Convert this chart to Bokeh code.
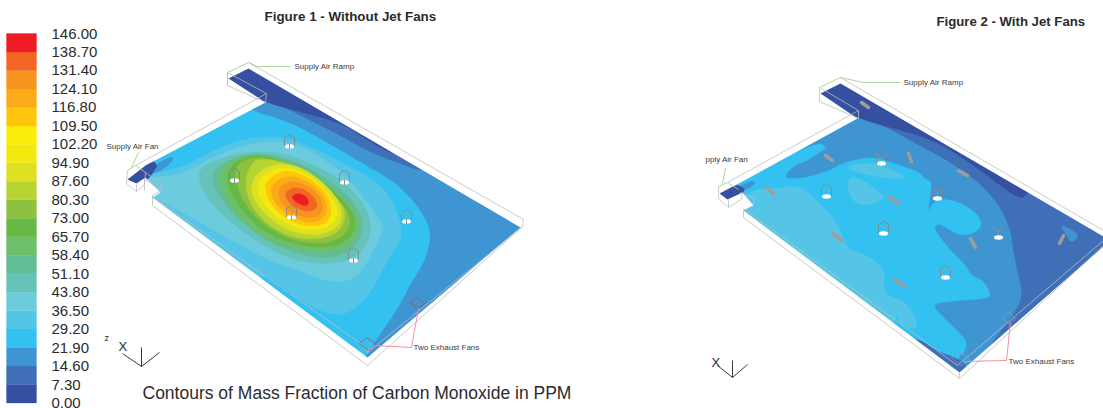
from bokeh.plotting import figure
from bokeh.models import Range1d
from bokeh.core.properties import value
from bokeh.embed import file_html
from bokeh.resources import INLINE

# ---------- colour scale ----------
ppm_labels = ["146.00","138.70","131.40","124.10","116.80","109.50","102.20","94.90","87.60","80.30",
              "73.00","65.70","58.40","51.10","43.80","36.50","29.20","21.90","14.60","7.30","0.00"]
ppm_values = [146.0,138.7,131.4,124.1,116.8,109.5,102.2,94.9,87.6,80.3,73.0,65.7,58.4,51.1,43.8,36.5,29.2,21.9,14.6,7.3,0.0]
band_colors = ["#354FA1","#3F6FB7","#3F95D2","#32C1F1","#55C5E7","#6CCBDD","#66C3B9","#62BC94","#6DBF6A","#66B945",
               "#8DC13F","#B8D433","#DDE122","#F4E90F","#FBED0C","#FFC60B","#FBAA19","#F7941D","#F26522","#ED1C24"]

# ---------- panel 1 outline and contours (picture pixels) ----------
plate1 = [(248,68),(520,227),(367,357),(152,197),(160,192),(145,177),(136,183),(127,179),(145,165),(265,102),(228,78)]
base1 = 2
contours1 = [
 (3,[(250,110),(275,117),(300,127),(340,150),(367,166),(392,180),(413,200),(428,223),(430,240),(423,263),(410,283),(400,303),(387,323),(373,343),(364,360),(300,345),(110,210),(105,100),(240,95)]),
 (4,[(135,178),(150,173),(177,168),(200,157),(223,145),(250,137),(280,136),(300,142),(333,157),(375,180),(393,200),(403,235),(393,250),(380,273),(370,293),(352,310),(337,315),(313,308),(280,285),(258,272),(240,300),(110,210)]),
 (5,[(140,178),(180,174),(197,165),(220,153),(250,143),(280,141),(305,147),(340,170),(350,180),(370,207),(382,223),(382,230),(373,250),(360,273),(343,282),(323,280),(300,270),(273,262),(240,245),(205,225),(175,208),(155,198),(125,190)]),
]
ring_levels = [6,7,8,9,10,11,12,13,15,16,17,18,19]
rings_zoom = [
 [(15,122),(80,85),(190,62),(280,70),(380,105),(490,175),(545,270),(530,350),(470,395),(370,400),(270,375),(150,300),(50,210)],
 [(55,130),(120,85),(200,68),(270,80),(365,115),(470,190),(520,265),(505,340),(445,380),(350,380),(220,330),(100,225)],
 [(80,125),(130,85),(190,70),(260,80),(355,120),(455,195),(510,265),(495,335),(430,365),(320,360),(200,315),(110,220)],
 [(105,140),(130,95),(190,72),(255,85),(350,125),(450,200),(500,265),(480,325),(420,352),(320,345),(210,300),(130,210)],
 [(135,150),(135,105),(180,80),(250,85),(340,125),(430,190),(482,255),(470,310),(410,340),(320,335),(225,290),(160,220)],
 [(163,150),(185,90),(230,85),(300,100),(370,145),(440,200),(468,250),(450,300),(400,325),(310,325),(225,280),(175,215)],
 [(180,165),(205,120),(270,97),(340,112),(420,175),(455,235),(450,285),(395,315),(310,308),(240,268),(190,210)],
 [(200,170),(215,135),(265,110),(330,120),(395,165),(440,225),(440,270),(390,300),(320,295),(250,255),(210,210)],
 [(222,155),(275,118),(335,130),(400,175),(425,230),(415,275),(370,290),(310,278),(255,240),(228,195)],
 [(240,165),(285,135),(340,145),(395,185),(412,235),(400,265),(360,278),(310,263),(265,232),(245,200)],
 [(262,175),(295,152),(340,158),(385,190),(400,235),(385,258),(345,262),(300,245),(270,215)],
 [(280,190),(305,170),(340,175),(372,200),(382,228),(365,242),(335,240),(300,222)],
 [(303,198),(320,188),(345,195),(355,212),(350,227),(330,222),(312,212)],
]
edge_bands1 = [
 (1,[(268,98),(300,115),(340,135),(370,152),(400,163),(425,172),(445,160),(280,85)]),
 (0,[(240,55),(215,78),(262,101),(295,110),(340,122),(365,138),(385,150),(402,155),(410,135),(260,50)]),
 (2,[(145,172),(158,162),(174,155),(170,163),(156,173)]),
 (0,[(116,184),(142,155),(158,163),(152,173),(147,179),(137,189)]),
]

# ---------- panel 2 outline and contours ----------
plate2 = [(840,83),(1110,240),(959,372),(743,210),(753,205),(742,192),(727,199),(719,193),(740,182),(857,118),(820,93)]
base2 = 1
contours2 = [
 (2,[(857,118),(877,122),(913,142),(947,160),(980,183),(1000,207),(1010,230),(1012,247),(1017,273),(1022,293),(1017,307),(1008,320),(993,340),(980,357),(967,368),(950,375),(705,230),(705,150),(845,100)]),
 (3,[(700,195),(818,140),(826,148),(826,147),(807,160),(793,165),(782,178),(803,178),(830,170),(843,162),(867,157),(880,158),(900,165),(920,172),(923,178),(930,180),(931,187),(927,213),(932,202),(942,198),(960,202),(977,213),(982,225),(973,233),(960,235),(947,228),(938,223),(933,227),(942,240),(953,253),(967,267),(970,275),(983,280),(990,293),(987,298),(957,300),(930,303),(943,317),(960,333),(967,343),(963,353),(958,355),(955,380),(800,330),(700,240)]),
 (4,[(735,205),(748,192),(763,187),(777,188),(790,185),(805,188),(808,193),(820,203),(833,217),(843,237),(847,248),(867,255),(882,267),(885,277),(882,287),(890,297),(903,300),(913,313),(918,328),(905,327),(899,323),(898,315),(895,317),(892,325),(885,340),(710,240)]),
 (4,[(847,178),(857,176),(877,190),(885,197),(878,201),(865,205),(855,203),(848,192)]),
 (4,[(847,165),(870,162),(887,167),(908,177),(890,178),(870,175),(850,170)]),
 (1,[(915,336),(937,351),(955,357),(968,366),(962,382),(900,345)]),
 (0,[(835,70),(812,93),(855,117),(890,127),(930,138),(967,160),(993,180),(1020,199),(1027,193),(1035,180),(850,70)]),
 (2,[(737,186),(755,179),(753,185),(743,190)]),
 (0,[(708,196),(733,183),(745,188),(741,194),(727,204)]),
 (2,[(1066,227),(1077,233),(1077,238),(1070,242),(1066,235),(1060,225)]),
]

# ---------- fans, jet fans, wires ----------
fans1_x = [289,234,344,291,406,353]
fans1_y = [146,180,182,217,221,260]
fans2_x = [881,826,937,883,998,945]
fans2_y = [163,196,198,233,237,277]
jet_x0 = [861,825,908,766,889,832,958,970,894,1063]
jet_y0 = [102,155,153,187,197,233,170,238,279,235]
jet_x1 = [868,832,911,773,898,841,967,975,904,1059]
jet_y1 = [107,160,161,193,203,240,175,247,286,243]

gray_wires = [
 [(248,62),(523,219),(522,226),(367,365),(152,205),(152,195),(161,190),(160,183),(145,172)],
 [(227,72),(266,93),(135,165)],[(227,72),(227,85),(265,102),(266,93)],
 [(152,196),(360,343),(367,352),(522,226)],
 [(127,170),(126,183),(136,191),(144,184),(145,172)],[(136,191),(136,184)],[(144,190),(144,178),(160,190)],
 [(840,77),(1103,230)],[(1103,245),(959,378),(743,217),(743,210),(753,205),(753,198),(740,192)],
 [(819,87),(858,110),(727,182)],[(819,87),(819,101),(858,118),(858,110)],
 [(743,208),(957,365),(1103,240)],[(959,372),(959,378)],
 [(718,186),(718,198),(728,207),(742,198),(740,192)],[(728,207),(728,199)],
]
green_wires = [
 [(227,72),(248,62),(257,66),(290,66)],[(227,72),(227,85)],[(138,152),(131,167)],[(127,170),(135,165),(145,172)],
 [(819,87),(840,77),(863,82),(900,82)],[(725,168),(722,183)],[(718,186),(727,182),(738,189)],
]
pink_wires = [
 [(418,308),(411,347),(375,345),(367,350)],
 [(1010,322),(1006,360),(963,361)],
]
red_diamonds = [
 [(409,302),(416,297),(424,303),(417,308),(409,302)],
 [(359,343),(366,337),(376,344),(368,350),(359,343)],
]
faint_diamonds = [
 [(1001,318),(1008,312),(1015,318),(1008,323),(1001,318)],
 [(951,357),(960,352),(970,360),(960,365),(951,357)],
]
triads = [
 [(122,353),(141,366),(159,352)],[(141,366),(141,347)],
 [(717,365),(732,377),(747,364)],[(732,377),(732,360)],
]

small_labels = ["Supply Air Ramp","Supply Air Fan","Two Exhaust Fans","Supply Air Ramp","pply Air Fan","Two Exhaust Fans"]
small_x = [294,106,413,903,705,1008]
small_y = [66,146,347,82,159,361]

FONT = value("Liberation Sans")

def chaikin(pts, n=2):
    for _ in range(n):
        out = []
        for i, a in enumerate(pts):
            b = pts[(i + 1) % len(pts)]
            out.append((0.75*a[0]+0.25*b[0], 0.75*a[1]+0.25*b[1]))
            out.append((0.25*a[0]+0.75*b[0], 0.25*a[1]+0.75*b[1]))
        pts = out
    return pts

def zoom7(pts):
    return [(190+x/3, 130+y/3) for x, y in pts]

p = figure(width=1103, height=408, output_backend="svg", toolbar_location=None,
           x_axis_type=None, y_axis_type=None, x_range=Range1d(0,1103), y_range=Range1d(408,0),
           min_border=0, margin=(0,0,0,0))
p.grid.visible = False
p.outline_line_color = None
p.background_fill_color = "white"
p.extra_y_ranges = {"ppm": Range1d(start=-2.17, end=159.04)}

def poly(pts, level, smooth=True):
    q = chaikin(pts) if smooth else pts
    p.patch([a for a, _ in q], [b for _, b in q], fill_color=band_colors[level], line_color=band_colors[level], line_width=0.4)

# panel 1
poly([(100,55),(550,55),(550,375),(100,375)], base1, smooth=False)
for lvl, pts in contours1:
    poly(pts, lvl)
for lvl, pts in zip(ring_levels, rings_zoom):
    poly(zoom7(pts), lvl)
for lvl, pts in edge_bands1:
    poly(pts, lvl)

# panel 2
poly([(695,65),(1110,65),(1110,395),(695,395)], base2, smooth=False)
for lvl, pts in contours2:
    poly(pts, lvl)

# white masks with the plate as a hole
def mask(x0, y0, x1, y1, hole):
    p.multi_polygons(xs=[[[[x0,x1,x1,x0],[a for a,_ in hole]]]], ys=[[[[y0,y0,y1,y1],[b for _,b in hole]]]],
                     fill_color="white", line_color=None)
mask(95,50,555,380,plate1)
mask(690,60,1115,400,plate2)

# colour bar
p.quad(left=6, right=36, bottom=ppm_values[::-1][:-1], top=ppm_values[::-1][1:], fill_color=band_colors,
       line_color=band_colors, line_width=0.3, y_range_name="ppm")
p.text(x=51, y=ppm_values, text=ppm_labels, y_range_name="ppm", text_font=FONT, text_font_size="15px",
       text_color="#2b2b2d", text_baseline="middle", text_align="left")

def lines(groups, color, width):
    p.multi_line([[a for a,_ in g] for g in groups], [[b for _,b in g] for g in groups], line_color=color, line_width=width)

lines(gray_wires, "#BDBEC0", 0.8)
lines(faint_diamonds, "#9FA3A6", 0.6)
lines(red_diamonds, "#B5485F", 0.8)
lines(pink_wires, "#F2939B", 1.0)
lines(green_wires, "#A4D08D", 0.9)
lines(triads, "#231F20", 0.9)

# jet fans
p.segment(jet_x0, jet_y0, jet_x1, jet_y1, line_color="#A29C98", line_width=3.5, line_cap="round")

# exhaust / supply fan boxes
for fx, fy in zip(fans1_x + fans2_x, fans1_y + fans2_y):
    hex_x = [fx, fx+5, fx+5, fx, fx-5, fx-5, fx]
    hex_y = [fy-12, fy-9, fy-1, fy+2, fy-1, fy-9, fy-12]
    p.line(hex_x, hex_y, line_color="#7F8488", line_width=0.8)
    p.multi_line([[fx, fx],[fx, fx+5],[fx, fx-5]], [[fy-6, fy+2],[fy-6, fy-9],[fy-6, fy-9]], line_color="#9DA1A4", line_width=0.5)
    p.ellipse(x=fx, y=fy, width=9, height=4.5, fill_color="white", line_color=None)
p.segment(fans1_x, [y-2.5 for y in fans1_y], fans1_x, [y+2.5 for y in fans1_y], line_color="#8C9094", line_width=1)

# texts
p.text(x=small_x, y=small_y, text=small_labels, text_font=FONT, text_font_size="8px", text_color="#3a3a3c",
       text_baseline="middle")
p.text(x=[264], y=[16], text=["Figure 1 - Without Jet Fans"], text_font=FONT, text_font_size="13.4px",
       text_font_style="bold", text_color="#2b2b2d", text_baseline="middle")
p.text(x=[936], y=[21], text=["Figure 2 - With Jet Fans"], text_font=FONT, text_font_size="13.2px",
       text_font_style="bold", text_color="#2b2b2d", text_baseline="middle")
p.text(x=[142], y=[392], text=["Contours of Mass Fraction of Carbon Monoxide in PPM"], text_font=FONT,
       text_font_size="17.5px", text_color="#2b2b2d", text_baseline="middle")
p.text(x=[118,711], y=[346,362], text=["X","X"], text_font=FONT, text_font_size="13px", text_color="#2b2b2d",
       text_baseline="middle")
p.text(x=[104], y=[337], text=["z"], text_font=FONT, text_font_size="9px", text_color="#2b2b2d", text_baseline="middle")

open("out.html", "w").write(file_html(p, INLINE))
